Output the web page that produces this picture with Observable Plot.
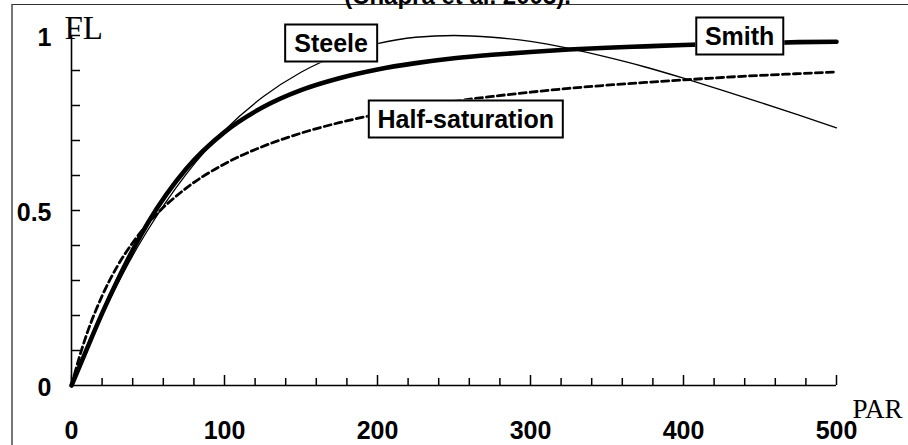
<!DOCTYPE html>
<html><head>
<meta charset="utf-8">
<script src="https://cdn.jsdelivr.net/npm/d3@7"></script>
<script src="https://cdn.jsdelivr.net/npm/@observablehq/plot@0.6"></script>
<style>
body{margin:0;background:#fff;}
#wrap{position:relative;width:908px;height:445px;overflow:hidden;font-family:"Liberation Sans",Arial,sans-serif;}
#frame{position:absolute;left:11px;top:4px;width:1200px;height:1200px;border-top:1.5px solid #333;border-left:2px solid #777;}
#wrap svg{position:absolute;left:0;top:0;}
.lbl{position:absolute;transform:translate(-50%,-50%);background:#fff;border:2px solid #000;padding:3px 8px;font:bold 25px "Liberation Sans",Arial,sans-serif;line-height:29px;white-space:nowrap;color:#000;}
</style></head><body>
<div id="wrap"><div id="frame"></div></div>
<script>
// PAR values (x) where the curves were read
const par = [0,5,10,20,30,40,50,75,100,125,150,175,200,225,250,275,300,325,350,375,400,425,450,475,500];
// FL read for each curve
const steele  = [0,0.053,0.105,0.201,0.289,0.371,0.445,0.604,0.729,0.824,0.895,0.945,0.977,0.995,1.000,0.995,0.983,0.963,0.938,0.910,0.878,0.844,0.809,0.773,0.736];
const smith   = [0,0.052,0.104,0.206,0.300,0.387,0.465,0.619,0.724,0.795,0.844,0.878,0.903,0.921,0.935,0.945,0.953,0.960,0.965,0.969,0.973,0.976,0.978,0.981,0.982];
const halfSat = [0,0.079,0.147,0.256,0.341,0.408,0.463,0.564,0.633,0.683,0.721,0.751,0.775,0.795,0.812,0.826,0.838,0.849,0.858,0.866,0.873,0.880,0.886,0.891,0.896];
// axis ticks
const xLabelTicks = [0,100,200,300,400,500];
const xMinorTicks = [20,40,60,80,120,140,160,180,220,240,260,280,320,340,360,380,420,440,460,480];
const yLabelTicks = [0,0.5,1];
const yMinorTicks = [0.1,0.2,0.3,0.4,0.5,0.6,0.7,0.8,0.9,1.0];
// curve labels (name, anchor PAR, anchor FL)
const labelNames = ["Steele","Smith","Half-saturation"];
const labelPar   = [170,437,258];
const labelFl    = [0.977,0.998,0.76];
const titleText = "(Chapra et al. 2003).";

const W = 908, H = 445, mL = 71, mR = 72, mT = 35, mB = 60;
const innerW = W - mL - mR, innerH = H - mT - mB;
const mk = (arr) => par.map((p, i) => ({par: p, fl: arr[i]}));

const plot = Plot.plot({
  width: W, height: H,
  marginLeft: mL, marginRight: mR, marginTop: mT, marginBottom: mB,
  x: {domain: [0, 500]},
  y: {domain: [0, 1]},
  style: {background: "transparent", overflow: "visible", fontFamily: "'Liberation Sans', Arial, sans-serif", color: "#000"},
  marks: [
    Plot.line(mk(halfSat), {x: "par", y: "fl", stroke: "#000", strokeWidth: 2.8, strokeDasharray: "7,4", curve: "monotone-x"}),
    Plot.line(mk(steele), {x: "par", y: "fl", stroke: "#000", strokeWidth: 1.3, curve: "monotone-x"}),
    Plot.line(mk(smith), {x: "par", y: "fl", stroke: "#000", strokeWidth: 4.6, curve: "monotone-x"}),
    Plot.ruleY([0], {stroke: "#000", strokeWidth: 1.6}),
    Plot.ruleX([0], {stroke: "#000", strokeWidth: 1.6}),
    Plot.tickX(xMinorTicks, {x: d => d, insetTop: innerH - 7, stroke: "#000", strokeWidth: 1.5}),
    Plot.tickX(xLabelTicks, {x: d => d, insetTop: innerH - 10, stroke: "#000", strokeWidth: 1.5}),
    Plot.tickY(yMinorTicks, {y: d => d, insetRight: innerW - 9, stroke: "#000", strokeWidth: 1.5}),
    Plot.axisX({ticks: xLabelTicks, tickSize: 0, tickPadding: 36, tickFormat: d => String(d), fontSize: 25, fontWeight: "bold", label: null, fill: "#000"}),
    Plot.axisY({ticks: yLabelTicks, tickSize: 0, tickPadding: 20, tickFormat: d => String(d), fontSize: 25, fontWeight: "bold", label: null, dy: 2, fill: "#000"}),
    Plot.text(["FL"], {frameAnchor: "top-left", text: d => d, dx: -7, dy: 3, textAnchor: "start", lineAnchor: "bottom", fontFamily: "'Liberation Serif', 'Times New Roman', serif", fontSize: 33, fill: "#000"}),
    Plot.text(["PAR"], {frameAnchor: "bottom-right", text: d => d, dx: 16, dy: 32, textAnchor: "start", lineAnchor: "bottom", fontFamily: "'Liberation Serif', 'Times New Roman', serif", fontSize: 27, fill: "#000"}),
    Plot.text([titleText], {frameAnchor: "top", text: d => d, dx: 3.5, dy: -31.5, lineAnchor: "bottom", fontSize: 24, fontWeight: "bold", fill: "#000"})
  ]
});

const wrap = document.getElementById("wrap");
wrap.appendChild(plot);
const sx = plot.scale("x"), sy = plot.scale("y");
labelNames.forEach((name, i) => {
  const d = document.createElement("div");
  d.className = "lbl";
  d.textContent = name;
  d.style.left = sx.apply(labelPar[i]) + "px";
  d.style.top = sy.apply(labelFl[i]) + "px";
  wrap.appendChild(d);
});
</script>
</body></html>
